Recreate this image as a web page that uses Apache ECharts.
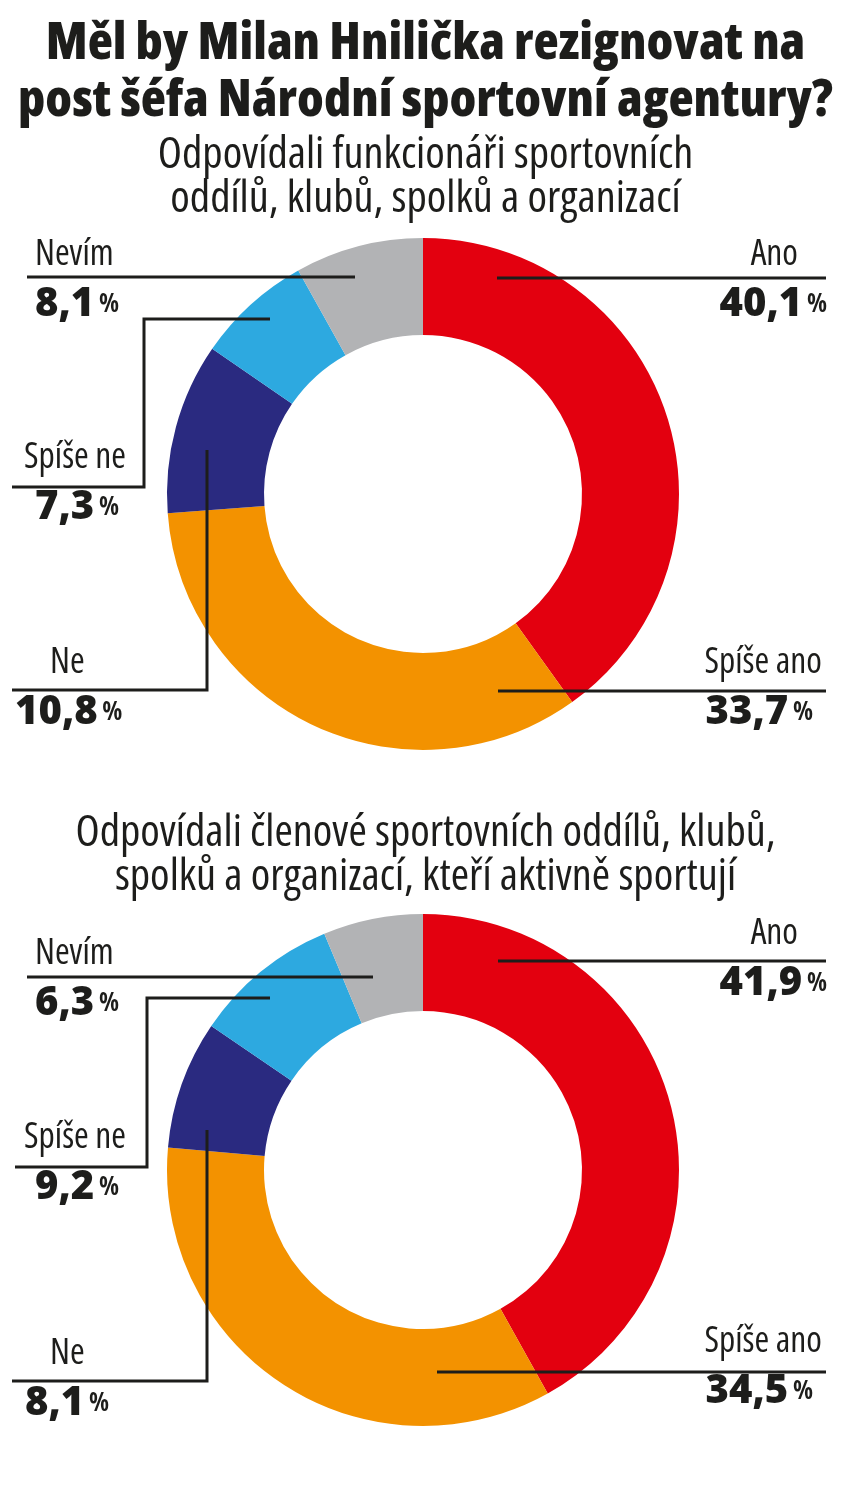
<!DOCTYPE html>
<html>
<head>
<meta charset="utf-8">
<script src="https://cdn.jsdelivr.net/npm/echarts@6/dist/echarts.min.js"></script>
<style>
  html, body { margin: 0; padding: 0; background: #ffffff; }
  #chart { width: 851px; height: 1496px; }
</style>
</head>
<body>
<div id="chart"></div>
<script>
// ---- data ----
const titleText = 'Měl by Milan Hnilička rezignovat na\npost šéfa Národní sportovní agentury?';
const subtitle1 = 'Odpovídali funkcionáři sportovních\noddílů, klubů, spolků a organizací';
const subtitle2 = 'Odpovídali členové sportovních oddílů, klubů,\nspolků a organizací, kteří aktivně sportují';
const categories = ['Ano', 'Spíše ano', 'Ne', 'Spíše ne', 'Nevím'];
const officials = [40.1, 33.7, 10.8, 7.3, 8.1];
const members = [41.9, 34.5, 8.1, 9.2, 6.3];
const colors = ['#E3000F', '#F39200', '#2A2A80', '#2DA9E0', '#B2B3B5'];

// ---- styles / layout (annotation positions, not data) ----
const FONT = '"Open Sans", "Noto Sans", sans-serif';
const INK = '#1d1d1b';

const layouts = [
  [
    { x: 827, y: 280, align: 'right', nPad: 29, vPad: 0, pts: [[497, 278], [826, 278]] },
    { x: 822, y: 688, align: 'right', nPad: 0, vPad: 9, pts: [[498, 691], [826, 691]] },
    { x: 15, y: 688, align: 'left', nPad: 35, vPad: 0, pts: [[207, 450], [207, 690], [12, 690]] },
    { x: 24, y: 483, align: 'left', nPad: 0, vPad: 11, pts: [[270, 319], [144, 319], [144, 487], [12, 487]] },
    { x: 35, y: 280, align: 'left', nPad: 0, vPad: 0, pts: [[355, 277], [27, 277]] }
  ],
  [
    { x: 827, y: 959, align: 'right', nPad: 29, vPad: 0, pts: [[498, 961], [826, 961]] },
    { x: 822, y: 1367, align: 'right', nPad: 0, vPad: 9, pts: [[437, 1372], [826, 1372]] },
    { x: 25, y: 1379, align: 'left', nPad: 25, vPad: 0, pts: [[207, 1130], [207, 1381], [12, 1381]] },
    { x: 24, y: 1163, align: 'left', nPad: 0, vPad: 11, pts: [[270, 998], [147, 998], [147, 1167], [15, 1167]] },
    { x: 35, y: 979, align: 'left', nPad: 0, vPad: 0, pts: [[373, 977], [27, 977]] }
  ]
];

function fmt(v) { return v.toFixed(1).replace('.', ','); }

const PIE_BASE = {
  type: 'pie',
  radius: [159, 256],
  startAngle: 90,
  clockwise: true,
  avoidLabelOverlap: false,
  animation: false,
  silent: true,
  emphasis: { disabled: true }
};

// coloured ring
function ringSeries(values, cy) {
  return Object.assign({}, PIE_BASE, {
    center: [423, cy],
    z: 2,
    label: { show: false },
    labelLine: { show: false },
    data: categories.map(function (name, i) {
      return { name: name, value: values[i], itemStyle: { color: colors[i] } };
    })
  });
}

// same values, transparent ring on top carrying the labels and leader lines
function labelSeries(values, si, cy) {
  return Object.assign({}, PIE_BASE, {
    center: [423, cy],
    z: 5,
    itemStyle: { color: 'rgba(0,0,0,0)', borderWidth: 0 },
    label: {
      show: true,
      position: 'outer',
      formatter: function (p) { return '{n|' + p.name + '}\n{v|' + fmt(p.value) + '}{p| %}'; }
    },
    labelLine: { show: true, showAbove: true, lineStyle: { color: INK, width: 3, opacity: 1 } },
    labelLayout: function (params) {
      const L = layouts[si][params.dataIndex];
      return { x: L.x, y: L.y, align: L.align, verticalAlign: 'middle', labelLinePoints: L.pts };
    },
    data: categories.map(function (name, i) {
      const L = layouts[si][i];
      const right = L.align === 'right';
      return {
        name: name,
        value: values[i],
        label: {
          rich: {
            n: { fontFamily: FONT, fontWeight: 'normal condensed', fontSize: 35.5, lineHeight: 50, color: INK,
                 padding: right ? [0, L.nPad, 0, 0] : [0, 0, 0, L.nPad] },
            v: { fontFamily: FONT, fontWeight: '800', fontSize: 40, lineHeight: 50, color: INK,
                 padding: right ? [0, 0, 0, 0] : [0, 0, 0, L.vPad] },
            p: { fontFamily: FONT, fontWeight: 'bold condensed', fontSize: 26, lineHeight: 50, color: INK,
                 padding: right ? [0, L.vPad, 0, 0] : [0, 0, 0, 0] }
          }
        }
      };
    })
  });
}

const chart = echarts.init(document.getElementById('chart'), null, { renderer: 'canvas' });
chart.setOption({
  backgroundColor: '#ffffff',
  animation: false,
  title: [
    {
      text: titleText, left: 'center', top: 11,
      textStyle: { fontFamily: FONT, fontWeight: '800 condensed', fontSize: 52, lineHeight: 57, color: INK }
    },
    {
      text: subtitle1, left: 'center', top: 128,
      textStyle: { fontFamily: FONT, fontWeight: 'normal condensed', fontSize: 44.4, lineHeight: 44, color: INK }
    },
    {
      text: subtitle2, left: 'center', top: 806,
      textStyle: { fontFamily: FONT, fontWeight: 'normal condensed', fontSize: 44.4, lineHeight: 44, color: INK }
    }
  ],
  series: [
    ringSeries(officials, 494),
    labelSeries(officials, 0, 494),
    ringSeries(members, 1170),
    labelSeries(members, 1, 1170)
  ]
});
</script>
</body>
</html>
